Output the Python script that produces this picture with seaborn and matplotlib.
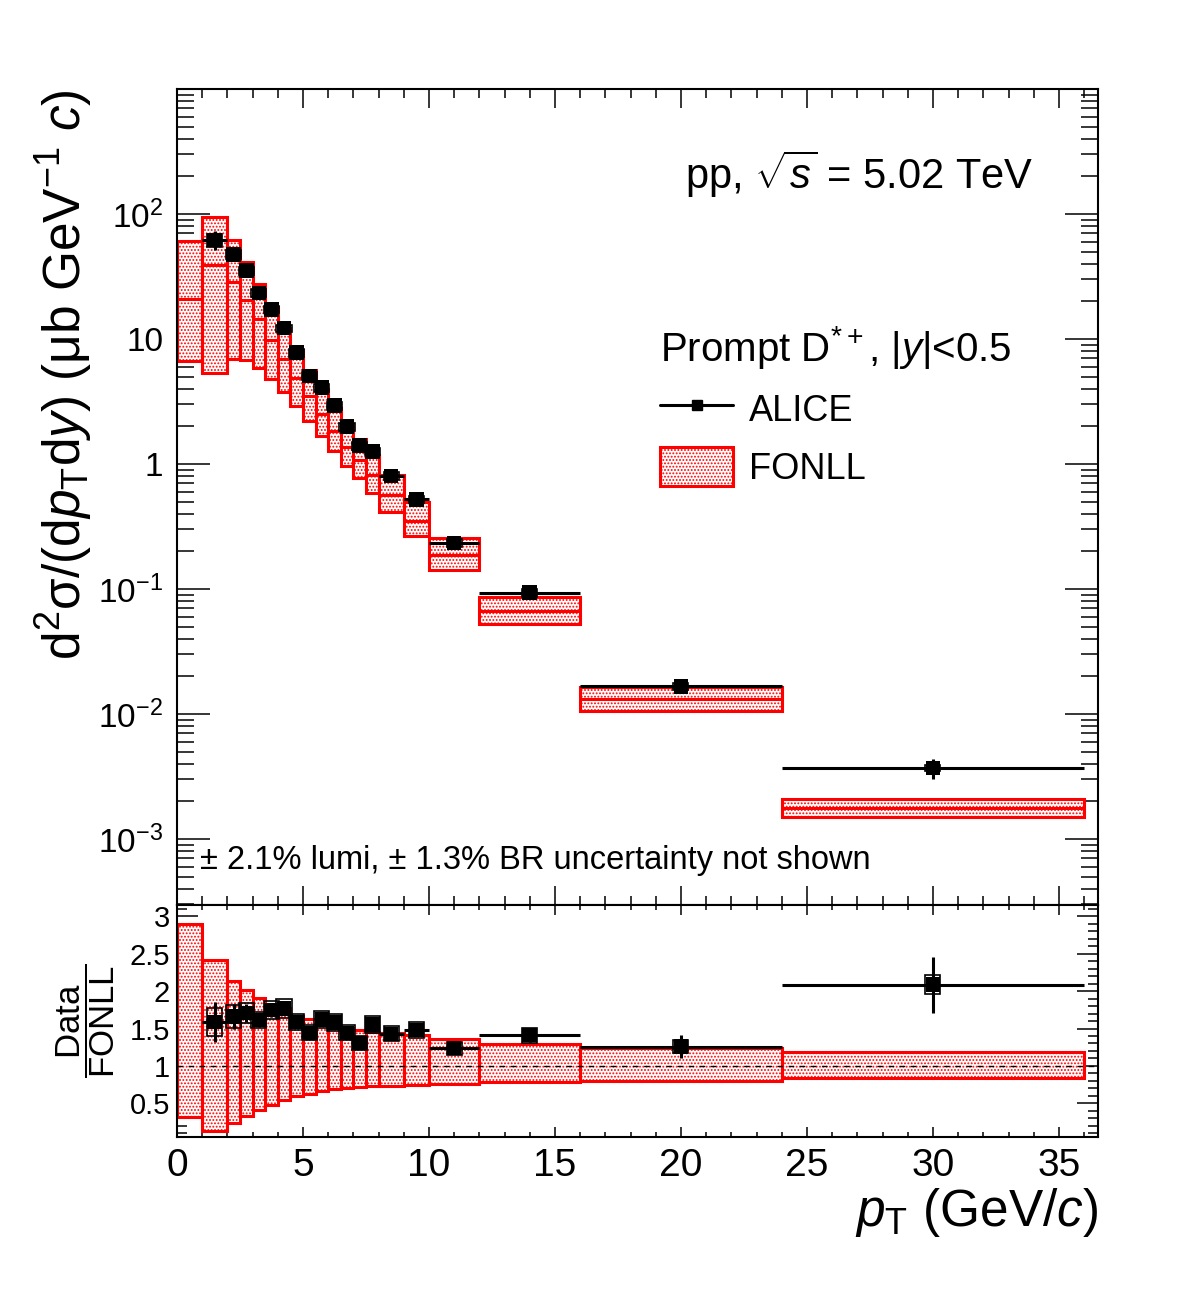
import numpy as np
import pandas as pd
import seaborn as sns
import matplotlib.pyplot as plt
from matplotlib.lines import Line2D
from matplotlib.patches import Patch
from matplotlib.ticker import MultipleLocator, LogLocator, FixedLocator, FixedFormatter, NullFormatter

# pT bins (GeV/c), FONLL has the extra 0-1 bin
bin_lo = [0, 1, 2, 2.5, 3, 3.5, 4, 4.5, 5, 5.5, 6, 6.5, 7, 7.5, 8, 9, 10, 12, 16, 24]
bin_hi = [1, 2, 2.5, 3, 3.5, 4, 4.5, 5, 5.5, 6, 6.5, 7, 7.5, 8, 9, 10, 12, 16, 24, 36]

# FONLL central / upper / lower (ub GeV^-1 c)
fonll_cen = [20.9, 39.0, 28.7, 20.6, 14.5, 9.9, 6.9, 4.9, 3.51, 2.52, 1.85, 1.38, 1.07, 0.81,
             0.56, 0.351, 0.188, 0.0662, 0.0132, 0.00177]
fonll_max = [60.6, 94.0, 61.4, 41.4, 27.6, 18.0, 12.2, 8.2, 5.7, 3.96, 2.83, 2.08, 1.58, 1.18,
             0.81, 0.495, 0.256, 0.086, 0.0164, 0.00209]
fonll_min = [6.7, 5.3, 6.9, 6.8, 5.9, 4.75, 3.8, 2.9, 2.2, 1.66, 1.28, 0.97, 0.77, 0.59,
             0.41, 0.263, 0.143, 0.052, 0.0106, 0.00149]

# ALICE D*+ (no 0-1 bin)
alice_pt = [1.5, 2.25, 2.75, 3.25, 3.75, 4.25, 4.75, 5.25, 5.75, 6.25, 6.75, 7.25, 7.75,
            8.5, 9.5, 11, 14, 20, 30]
alice_val = [62, 47.6, 35.2, 23.4, 17.3, 12.2, 7.78, 5.06, 4.08, 2.93, 1.99, 1.40, 1.26,
             0.80, 0.52, 0.233, 0.0934, 0.0166, 0.00369]
alice_stat = [0.17, 0.10, 0.07, 0.06, 0.05, 0.05, 0.05, 0.05, 0.05, 0.05, 0.05, 0.05, 0.05,
              0.04, 0.04, 0.04, 0.06, 0.12, 0.18]
alice_syst = [0.12, 0.09, 0.08, 0.07, 0.07, 0.07, 0.07, 0.07, 0.07, 0.07, 0.07, 0.07, 0.07,
              0.07, 0.07, 0.07, 0.07, 0.07, 0.06]

fonll = pd.DataFrame({"lo": bin_lo, "hi": bin_hi, "cen": fonll_cen, "max": fonll_max, "min": fonll_min})
fonll["w"] = fonll.hi - fonll.lo
alice = pd.DataFrame({"pt": alice_pt, "val": alice_val, "stat": alice_stat, "syst": alice_syst})
alice["xerr"] = (fonll.w.values[1:] / 2)
alice["ratio"] = alice.val / fonll.cen.values[1:]

sns.set_theme(style="ticks")
plt.rcParams["font.family"] = ["Liberation Sans", "DejaVu Sans"]
plt.rcParams["mathtext.fontset"] = "custom"
plt.rcParams["mathtext.rm"] = "Liberation Sans"
plt.rcParams["mathtext.it"] = "Liberation Sans:italic"
plt.rcParams["mathtext.bf"] = "Liberation Sans:bold"
plt.rcParams["hatch.linewidth"] = 0.9
for k in ["text.color", "axes.labelcolor", "xtick.color", "ytick.color", "axes.edgecolor"]:
    plt.rcParams[k] = "black"

red = "#ff0000"
hatch = "....."

fig = plt.figure(figsize=(11.82, 12.94), dpi=100)
ax = fig.add_axes([0.1497, 0.3006, 0.7792, 0.6306])
ax2 = fig.add_axes([0.1497, 0.1213, 0.7792, 0.1793])

# ---- upper panel
ax.set_yscale("log")
ax.bar(fonll.lo, fonll["max"] - fonll["min"], bottom=fonll["min"], width=fonll.w, align="edge",
       facecolor="white", edgecolor=red, hatch=hatch, lw=2.2, zorder=2)
ax.hlines(fonll.cen, fonll.lo, fonll.hi, color=red, lw=2.2, zorder=2.5)
ax.errorbar(alice.pt, alice.val, xerr=alice.xerr, yerr=alice.val * alice.stat, fmt="none",
            ecolor="black", elinewidth=2.2, capsize=0, zorder=3)
ax.bar(alice.pt, 2 * alice.val * alice.syst, bottom=alice.val * (1 - alice.syst), width=0.6,
       fill=False, edgecolor="black", lw=1.2, zorder=3)
sns.scatterplot(data=alice, x="pt", y="val", marker="s", s=110, color="black", edgecolor="none",
                ax=ax, zorder=4, legend=False)

ax.set_xlim(0, 36.55)
ax.set_ylim(2.96e-4, 1e3)
ax.xaxis.set_major_locator(MultipleLocator(5))
ax.xaxis.set_minor_locator(MultipleLocator(1))
ax.xaxis.set_major_formatter(NullFormatter())
ax.yaxis.set_major_locator(FixedLocator([1e-3, 1e-2, 1e-1, 1, 10, 100]))
ax.yaxis.set_major_formatter(FixedFormatter([r"$10^{-3}$", r"$10^{-2}$", r"$10^{-1}$", "1", "10", r"$10^{2}$"]))
ax.yaxis.set_minor_locator(LogLocator(base=10, subs=np.arange(2, 10), numticks=20))
ax.yaxis.set_minor_formatter(NullFormatter())
ax.tick_params(axis="both", which="both", direction="in", top=True, right=True, width=1.1)
ax.tick_params(axis="x", which="major", length=13.5)
ax.tick_params(axis="x", which="minor", length=6.5)
ax.tick_params(axis="y", which="major", length=24, labelsize=24, pad=10)
ax.tick_params(axis="y", which="minor", length=12)
ax.set_xlabel("")
ax.set_ylabel(r"d$^{2}$σ/(d$p_{\rm T}$d$y$) (μb GeV$^{-1}$ $c$)", fontsize=37, loc="top")
ax.yaxis.set_label_coords(-0.09, 1.0)

ax.text(0.552, 0.895, r"pp, $\sqrt{s}$ = 5.02 TeV", transform=ax.transAxes, fontsize=30,
        ha="left", va="center")
ax.text(0.025, 0.055, "± 2.1% lumi, ± 1.3% BR uncertainty not shown", transform=ax.transAxes,
        fontsize=23.5, ha="left", va="center")

handles = [Line2D([], [], color="black", lw=2.2, marker="s", markersize=7),
           Patch(facecolor="white", edgecolor=red, hatch=hatch, lw=2.2)]
leg = ax.legend(handles, ["ALICE", "FONLL"], title=r"Prompt D$^{*+}$, |$y$|<0.5", frameon=False,
                fontsize=26, title_fontsize=29, handlelength=2.0, handleheight=1.3,
                loc="upper left", bbox_to_anchor=(0.525, 0.712), borderaxespad=0, borderpad=0,
                labelspacing=0.5, handletextpad=0.45)
leg._legend_box.align = "left"

# ---- ratio panel
ax2.bar(fonll.lo, (fonll["max"] - fonll["min"]) / fonll.cen, bottom=fonll["min"] / fonll.cen,
        width=fonll.w, align="edge", facecolor="white", edgecolor=red, hatch=hatch, lw=2.2, zorder=2)
ax2.axhline(1, color="black", ls=(0, (4, 4)), lw=1.0, zorder=2.5)
ax2.errorbar(alice.pt, alice.ratio, xerr=alice.xerr, yerr=alice.ratio * alice.stat, fmt="none",
             ecolor="black", elinewidth=2.2, capsize=0, zorder=3)
ax2.bar(alice.pt, 2 * alice.ratio * alice.syst, bottom=alice.ratio * (1 - alice.syst), width=0.6,
        fill=False, edgecolor="black", lw=1.2, zorder=3)
sns.scatterplot(data=alice, x="pt", y="ratio", marker="s", s=110, color="black", edgecolor="none",
                ax=ax2, zorder=4, legend=False)

ax2.set_xlim(0, 36.55)
ax2.set_ylim(0.05, 3.15)
ax2.xaxis.set_major_locator(MultipleLocator(5))
ax2.xaxis.set_minor_locator(MultipleLocator(1))
ax2.yaxis.set_major_locator(FixedLocator([0.5, 1, 1.5, 2, 2.5, 3]))
ax2.yaxis.set_major_formatter(FixedFormatter(["0.5", "1", "1.5", "2", "2.5", "3"]))
ax2.yaxis.set_minor_locator(MultipleLocator(0.1))
ax2.tick_params(axis="both", which="both", direction="in", top=True, right=True, width=1.1)
ax2.tick_params(axis="x", which="major", length=7, labelsize=28, pad=8)
ax2.tick_params(axis="x", which="minor", length=3.6)
ax2.tick_params(axis="y", which="major", length=15, labelsize=21, pad=5)
ax2.tick_params(axis="y", which="minor", length=7)
ax2.set_ylabel(r"$\dfrac{\mathrm{Data}}{\mathrm{FONLL}}$", fontsize=25)
ax2.yaxis.set_label_coords(-0.065, 0.5)
ax2.set_xlabel(r"$p_{\rm T}$ (GeV/$c$)", fontsize=37, loc="right")
ax2.xaxis.set_label_coords(1.0, -0.21)

for a in (ax, ax2):
    for s in a.spines.values():
        s.set_linewidth(1.5)
        s.set_color("black")

fig.savefig("out.png", dpi=100, facecolor="white")
